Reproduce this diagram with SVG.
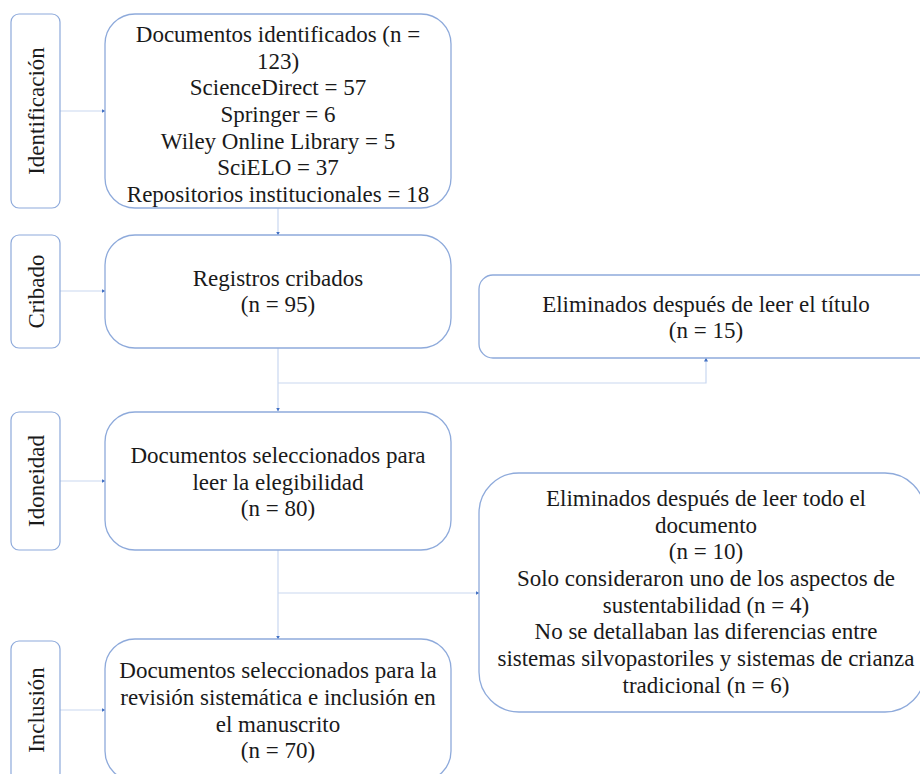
<svg xmlns="http://www.w3.org/2000/svg" width="920" height="774" viewBox="0 0 920 774">
<style>
.lab{fill:#fff;stroke:#8eaadb;stroke-width:1.2}
.box{fill:#fff;stroke:#8eaadb;stroke-width:1.3}
.t{font-family:"Liberation Serif","Times New Roman",serif;font-size:23px;fill:#1a1a1a;text-anchor:middle}
.c{fill:none;stroke:#c9d7f0;stroke-width:1.2}
</style>
<defs>
<marker id="ah" markerWidth="4" markerHeight="4" refX="3.5" refY="2" orient="auto" markerUnits="userSpaceOnUse">
<path d="M0,0 L4,2 L0,4 z" fill="#4472c4"/>
</marker>
</defs>
<rect width="920" height="774" fill="#fff"/>
<g id="connectors">
<path class="c" d="M60,111 H105" marker-end="url(#ah)"/>
<path class="c" d="M60,291 H105" marker-end="url(#ah)"/>
<path class="c" d="M60,481 H105" marker-end="url(#ah)"/>
<path class="c" d="M60,710 H105" marker-end="url(#ah)"/>
<path class="c" d="M278,208 V235" marker-end="url(#ah)"/>
<path class="c" d="M278,348 V411" marker-end="url(#ah)"/>
<path class="c" d="M278,383 H706 V358" marker-end="url(#ah)"/>
<path class="c" d="M278,550 V639" marker-end="url(#ah)"/>
<path class="c" d="M278,593 H479" marker-end="url(#ah)"/>
</g>
<g id="lab-identificacion">
<rect class="lab" x="11" y="14" width="49" height="194" rx="8"/>
<text class="t" transform="translate(44,111) rotate(-90)">Identificación</text>
</g>
<g id="lab-cribado">
<rect class="lab" x="11" y="235" width="49" height="113" rx="8"/>
<text class="t" transform="translate(44,291.5) rotate(-90)">Cribado</text>
</g>
<g id="lab-idoneidad">
<rect class="lab" x="11" y="412" width="49" height="138" rx="8"/>
<text class="t" transform="translate(44,481) rotate(-90)">Idoneidad</text>
</g>
<g id="lab-inclusion">
<rect class="lab" x="11" y="641" width="49" height="140" rx="8"/>
<text class="t" transform="translate(44,710) rotate(-90)">Inclusión</text>
</g>
<g id="identificados">
<rect class="box" x="105" y="14" width="346" height="194" rx="30"/>
<text class="t" x="278" y="42">Documentos identificados (n =</text>
<text class="t" x="278" y="68.7">123)</text>
<text class="t" x="278" y="95.3">ScienceDirect = 57</text>
<text class="t" x="278" y="122">Springer = 6</text>
<text class="t" x="278" y="148.7">Wiley Online Library = 5</text>
<text class="t" x="278" y="175.3">SciELO = 37</text>
<text class="t" x="278" y="202">Repositorios institucionales = 18</text>
</g>
<g id="cribados">
<rect class="box" x="105" y="235" width="346" height="113" rx="30"/>
<text class="t" x="278" y="286">Registros cribados</text>
<text class="t" x="278" y="312">(n = 95)</text>
</g>
<g id="eliminados-titulo">
<rect class="box" x="479" y="275" width="455" height="83" rx="14"/>
<text class="t" x="706" y="312">Eliminados después de leer el título</text>
<text class="t" x="706" y="338">(n = 15)</text>
</g>
<g id="elegibilidad">
<rect class="box" x="105" y="412" width="346" height="138" rx="30"/>
<text class="t" x="278" y="463">Documentos seleccionados para</text>
<text class="t" x="278" y="489.5">leer la elegibilidad</text>
<text class="t" x="278" y="516">(n = 80)</text>
</g>
<g id="eliminados-documento">
<rect class="box" x="479" y="473" width="446" height="239" rx="40"/>
<text class="t" x="706" y="506">Eliminados después de leer todo el</text>
<text class="t" x="706" y="532.7">documento</text>
<text class="t" x="706" y="559.3">(n = 10)</text>
<text class="t" x="706" y="586">Solo consideraron uno de los aspectos de</text>
<text class="t" x="706" y="612.7">sustentabilidad (n = 4)</text>
<text class="t" x="706" y="639.3">No se detallaban las diferencias entre</text>
<text class="t" x="706" y="666">sistemas silvopastoriles y sistemas de crianza</text>
<text class="t" x="706" y="692.7">tradicional (n = 6)</text>
</g>
<g id="inclusion">
<rect class="box" x="105" y="639" width="346" height="142" rx="30"/>
<text class="t" x="278" y="678">Documentos seleccionados para la</text>
<text class="t" x="278" y="705">revisión sistemática e inclusión en</text>
<text class="t" x="278" y="731.5">el manuscrito</text>
<text class="t" x="278" y="758">(n = 70)</text>
</g>
</svg>
